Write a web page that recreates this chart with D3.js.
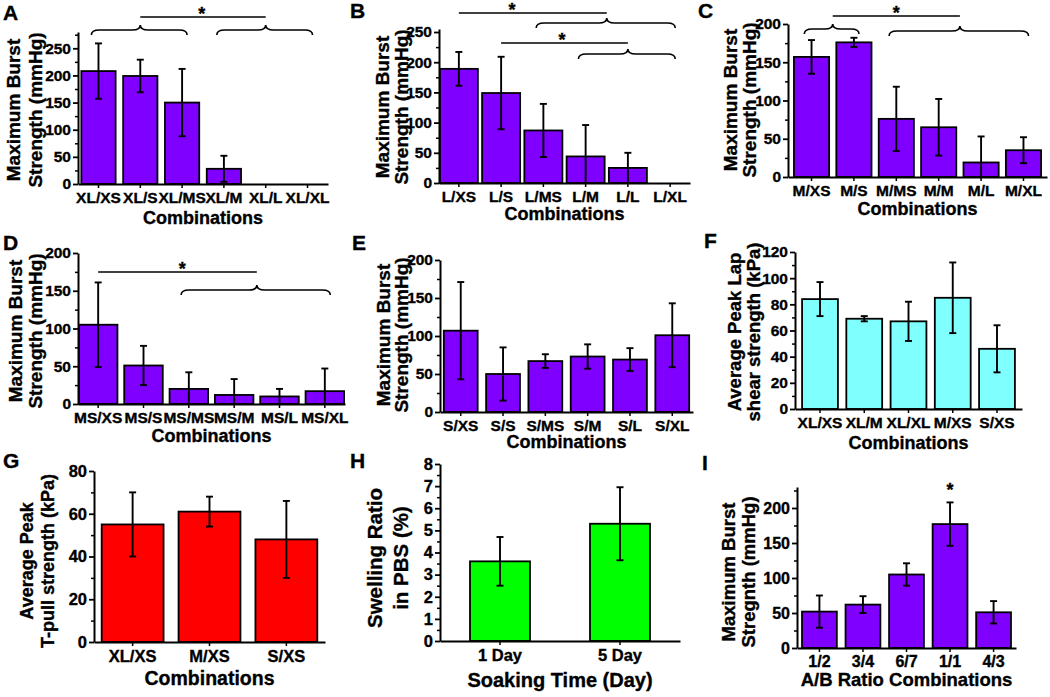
<!DOCTYPE html>
<html><head><meta charset="utf-8">
<script src="https://cdn.jsdelivr.net/npm/d3@7/dist/d3.min.js"></script>
<style>
body{margin:0;background:#fff}
text{font-family:"Liberation Sans",Arial,sans-serif;font-weight:bold;fill:#000;stroke:#000;stroke-width:0.35px}
</style></head><body>
<svg id="fig" width="1050" height="697"></svg>
<script>
// ---------- DATA ----------
const catsA = ["XL/XS","XL/S","XL/MS","XL/M","XL/L","XL/XL"];
const valsA = [208,199,150,28,0,0];
const errA  = [51,30,62,24,0,0];
const ticksA = [0,50,100,150,200,250];

const catsB = ["L/XS","L/S","L/MS","L/M","L/L","L/XL"];
const valsB = [189,149,87,44,25,0];
const errB  = [28,60,44,52,25,0];
const ticksB = [0,50,100,150,200,250];

const catsC = ["M/XS","M/S","M/MS","M/M","M/L","M/XL"];
const valsC = [157,176,76,65,19,35];
const errC  = [22,6,42,37,34,17];
const ticksC = [0,50,100,150,200];

const catsD = ["MS/XS","MS/S","MS/MS","MS/M","MS/L","MS/XL"];
const valsD = [105,51,20,12,10,17];
const errD  = [56,26,22,21,10,30];
const ticksD = [0,50,100,150,200];

const catsE = ["S/XS","S/S","S/MS","S/M","S/L","S/XL"];
const valsE = [107,50,67,73,69,101];
const errE  = [64,35,9,16,15,42];
const ticksE = [0,50,100,150,200];

const catsF = ["XL/XS","XL/M","XL/XL","M/XS","S/XS"];
const valsF = [84,69,67,85,46];
const errF  = [13,2,15,27,18];
const ticksF = [0,20,40,60,80,100,120];

const catsG = ["XL/XS","M/XS","S/XS"];
const valsG = [55,61,48];
const errG  = [15,7,18];
const ticksG = [0,20,40,60,80];

const catsH = ["1 Day","5 Day"];
const valsH = [3.6,5.3];
const errH  = [1.1,1.65];
const ticksH = [0,1,2,3,4,5,6,7,8];

const catsI = ["1/2","3/4","6/7","1/1","4/3"];
const valsI = [52,62,105,177,51];
const errI  = [23,12,16,31,16];
const ticksI = [0,50,100,150,200];

// significance annotations (which groups are compared)
const sigA = [{left:["brace","XL/XS","XL/MS"], right:["brace","XL/M","XL/XL"]}];
const sigB = [{left:["bar","L/XS"], right:["brace","L/MS","L/XL"]},
              {left:["bar","L/S"],  right:["brace","L/M","L/XL"]}];
const sigC = [{left:["brace","M/XS","M/S"], right:["brace","M/MS","M/XL"]}];
const sigD = [{left:["bar","MS/XS"], right:["brace","MS/MS","MS/XL"]}];
const starI = ["1/1"];

// ---------- LAYOUT ----------
const PURPLE="#7f00ff", CYAN="#80ffff", RED="#ff0000", GREEN="#00ff00";
const T1=["Maximum Burst","Strength (mmHg)"];
const panels = [
 {L:"A",lx:3,ly:20,cats:catsA,vals:valsA,errs:errA,ticks:ticksA,minor:25,dom:[0,280],x0:78,x1:328,y0:184,yT:32,pi:0.18,po:0.08,color:PURPLE,
  yt:T1,yto:[-58,-36],ytc:110,xt:"Combinations",xto:40,tf:15.5,ttf:19,xtf:18,
  sig:sigA,sigL:[{lineY:17,lb:30,rb:30,sf:0.49}]},
 {L:"B",lx:350,ly:18,cats:catsB,vals:valsB,errs:errB,ticks:ticksB,minor:25,dom:[0,255],x0:439,x1:690,y0:183,yT:29,pi:0.1,po:0.02,color:PURPLE,
  yt:T1,yto:[-50,-31],ytc:107,xt:"Combinations",xto:37,tf:15.5,ttf:19,xtf:18,
  sig:sigB,sigL:[{lineY:13,rb:23,sf:0.36},{lineY:43,rb:54,sf:0.48}]},
 {L:"C",lx:698,ly:18,cats:catsC,vals:valsC,errs:errC,ticks:ticksC,minor:25,dom:[0,200],x0:788,x1:1047,y0:177,yT:24,pi:0.17,po:0.14,color:PURPLE,
  yt:T1,yto:[-51,-32],ytc:100,xt:"Combinations",xto:38,tf:15.5,ttf:19,xtf:18,
  sig:sigC,sigL:[{lineY:16,lb:29,rb:31,sf:0.5}]},
 {L:"D",lx:3,ly:250,cats:catsD,vals:valsD,errs:errD,ticks:ticksD,minor:25,dom:[0,200],x0:78,x1:345,y0:404,yT:253,pi:0.15,po:0.02,color:PURPLE,
  yt:T1,yto:[-56,-36],ytc:331,xt:"Combinations",xto:38,tf:15.5,ttf:19,xtf:18,
  sig:sigD,sigL:[{lineY:272,rb:290,sf:0.53}]},
 {L:"E",lx:352,ly:250,cats:catsE,vals:valsE,errs:errE,ticks:ticksE,minor:25,dom:[0,200],x0:440,x1:693,y0:412,yT:260,pi:0.2,po:0.09,color:PURPLE,
  yt:T1,yto:[-50,-32],ytc:335,xt:"Combinations",xto:36,tf:15.5,ttf:19,xtf:18},
 {L:"F",lx:704,ly:248,cats:catsF,vals:valsF,errs:errF,ticks:ticksF,minor:10,dom:[0,120],x0:795,x1:1022,y0:409,yT:252,pi:0.19,po:0.16,color:CYAN,
  yt:["Average Peak Lap","shear strength (kPa)"],yto:[-54,-35],ytc:332,xt:"Combinations",xto:40,tf:15.5,ttf:18.5,xtf:18},
 {L:"G",lx:3,ly:468,cats:catsG,vals:valsG,errs:errG,ticks:ticksG,minor:10,dom:[0,80],x0:94,x1:325,y0:642,yT:471,pi:0.195,po:0.1,color:RED,
  yt:["Average Peak","T-pull strength (kPa)"],yto:[-61,-40],ytc:561,xt:"Combinations",xto:43,tf:16.5,ttf:18,xtf:19.5},
 {L:"H",lx:350,ly:468,cats:catsH,vals:valsH,errs:errH,ticks:ticksH,minor:0.5,dom:[0,8],x0:440,x1:680,y0:641,yT:464,pi:0.5,po:0.25,color:GREEN,
  yt:["Swelling Ratio","in PBS (%)"],yto:[-58,-32],ytc:558,xt:"Soaking Time (Day)",xto:46,tf:16.5,ttf:20.5,xtf:20},
 {L:"I",lx:702,ly:470,cats:catsI,vals:valsI,errs:errI,ticks:ticksI,minor:25,dom:[0,230],x0:797,x1:1016,y0:648,yT:487,pi:0.2,po:0.115,color:PURPLE,
  yt:["Maximum Burst","Stregnth (mmHg)"],yto:[-62,-42],ytc:572,xt:"A/B Ratio Combinations",xto:38,tf:16,ttf:18.5,xtf:18.5,
  stars:starI}
];

const svg = d3.select("#fig");
svg.append("rect").attr("width",1050).attr("height",697).attr("fill","#fff");

function bracePath(x1,x2,xm,y,h,pk,r){
  const p = d3.path();
  p.moveTo(x1,y+h); p.quadraticCurveTo(x1,y,x1+r,y); p.lineTo(xm-r,y);
  p.quadraticCurveTo(xm,y,xm,y-pk);
  p.quadraticCurveTo(xm,y,xm+r,y); p.lineTo(x2-r,y);
  p.quadraticCurveTo(x2,y,x2,y+h);
  return p.toString();
}

function drawPanel(p){
  const g = svg.append("g");
  const x = d3.scaleBand().domain(p.cats).range([p.x0,p.x1]).paddingInner(p.pi).paddingOuter(p.po);
  const y = d3.scaleLinear().domain(p.dom).range([p.y0,p.yT]);
  const cx = c => x(c)+x.bandwidth()/2;
  const data = p.cats.map((c,i)=>({c,v:p.vals[i],e:p.errs[i]}));

  g.selectAll("rect.bar").data(data.filter(d=>d.v>0)).join("rect").attr("class","bar")
    .attr("x",d=>x(d.c)).attr("width",x.bandwidth())
    .attr("y",d=>y(d.v)).attr("height",d=>y(0)-y(d.v))
    .attr("fill",p.color).attr("stroke","#000").attr("stroke-width",1.8);

  const eb = g.selectAll("g.eb").data(data.filter(d=>d.e>0)).join("g").attr("class","eb")
    .attr("stroke","#000").attr("stroke-width",1.9);
  eb.append("line").attr("x1",d=>cx(d.c)).attr("x2",d=>cx(d.c))
    .attr("y1",d=>y(Math.max(0,d.v-d.e))).attr("y2",d=>y(d.v+d.e));
  eb.append("line").attr("x1",d=>cx(d.c)-3.5).attr("x2",d=>cx(d.c)+3.5)
    .attr("y1",d=>y(d.v+d.e)).attr("y2",d=>y(d.v+d.e));
  eb.filter(d=>d.v-d.e>0).append("line").attr("x1",d=>cx(d.c)-3.5).attr("x2",d=>cx(d.c)+3.5)
    .attr("y1",d=>y(d.v-d.e)).attr("y2",d=>y(d.v-d.e));

  // y minor ticks
  const minor = d3.range(p.dom[0], p.dom[1]+1e-9, p.minor).filter(v=>!p.ticks.some(t=>Math.abs(t-v)<1e-9));
  const ym = g.append("g").attr("transform",`translate(${p.x0},0)`)
    .call(d3.axisLeft(y).tickValues(minor).tickSize(3).tickFormat(""));
  ym.select(".domain").remove();
  ym.selectAll("line").attr("stroke-width",1.5);
  // y axis
  const ya = g.append("g").attr("transform",`translate(${p.x0},0)`)
    .call(d3.axisLeft(y).tickValues(p.ticks).tickSize(5).tickPadding(2).tickSizeOuter(0));
  ya.select(".domain").attr("stroke-width",2);
  ya.selectAll("line").attr("stroke-width",1.8);
  ya.selectAll("text").attr("font-size",p.tf).attr("font-family",null);
  // x axis
  const xa = g.append("g").attr("transform",`translate(0,${p.y0})`)
    .call(d3.axisBottom(x).tickSize(4).tickPadding(4).tickSizeOuter(0));
  xa.select(".domain").attr("stroke-width",2);
  xa.selectAll("line").attr("stroke-width",1.5);
  xa.selectAll("text").attr("font-size",p.tf).attr("font-family",null);

  // titles
  p.yt.forEach((t,i)=>{
    g.append("text").attr("transform",`translate(${p.x0+p.yto[i]},${p.ytc}) rotate(-90)`)
      .attr("text-anchor","middle").attr("font-size",p.ttf).text(t);
  });
  g.append("text").attr("x",(p.x0+p.x1)/2).attr("y",p.y0+p.xto).attr("text-anchor","middle")
    .attr("font-size",p.xtf).text(p.xt);
  g.append("text").attr("x",p.lx).attr("y",p.ly).attr("font-size",21).text(p.L);

  // significance
  if(p.sig){
    const step = x.step();
    p.sig.forEach((s,i)=>{
      const lay = p.sigL[i];
      const endX = (spec, by) => {
        if(spec[0]==="bar") return cx(spec[1]);
        const a = cx(spec[1]) - 0.17*step, b = cx(spec[2]) + 0.12*step;
        const m = (cx(spec[1])+cx(spec[2]))/2;
        g.append("path").attr("d",bracePath(a,b,m,by,5,5,8))
          .attr("fill","none").attr("stroke","#000").attr("stroke-width",1.6);
        return m;
      };
      const xl = endX(s.left, lay.lb), xr = endX(s.right, lay.rb);
      g.append("line").attr("x1",xl).attr("x2",xr).attr("y1",lay.lineY).attr("y2",lay.lineY)
        .attr("stroke","#000").attr("stroke-width",1.7);
      g.append("text").attr("x",xl+(xr-xl)*lay.sf).attr("y",lay.lineY+3).attr("text-anchor","middle")
        .attr("font-size",18).text("*");
    });
  }
  if(p.stars){
    p.stars.forEach(c=>{
      const d = data.find(e=>e.c===c);
      g.append("text").attr("x",cx(c)).attr("y",y(d.v+d.e)-6).attr("text-anchor","middle")
        .attr("font-size",18).text("*");
    });
  }
}
panels.forEach(drawPanel);
</script>
</body></html>
